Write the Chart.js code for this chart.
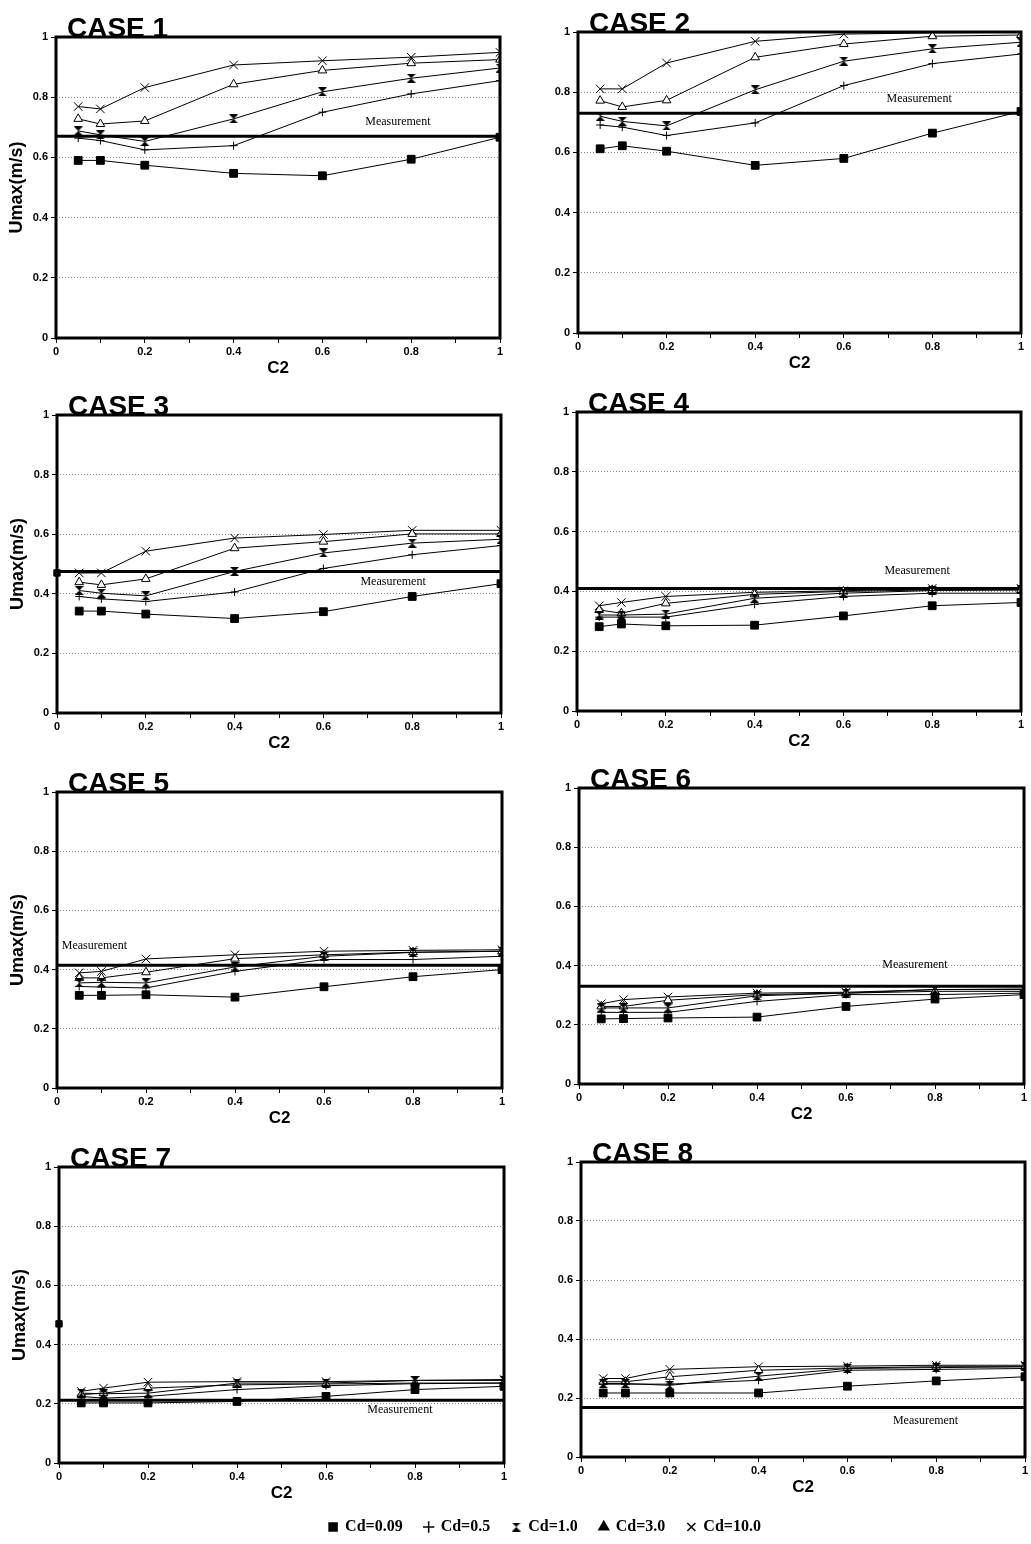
<!DOCTYPE html>
<html>
<head>
<meta charset="utf-8">
<title>Umax vs C2 - Cases 1-8</title>
<script src="https://cdn.jsdelivr.net/npm/chart.js@4.4.1/dist/chart.umd.min.js"></script>
<style>
  html, body { margin: 0; padding: 0; background: #fff; overflow: hidden; }
  body { width: 1031px; height: 1544px; position: relative; }
  .panel { position: absolute; }
</style>
</head>
<body>
<script>
// x values (C2) shared by every case
const c2 = [0.05, 0.1, 0.2, 0.4, 0.6, 0.8, 1.0];
const cdLabels = ['Cd=0.09', 'Cd=0.5', 'Cd=1.0', 'Cd=3.0', 'Cd=10.0'];
const caseNames = ['CASE 1', 'CASE 2', 'CASE 3', 'CASE 4', 'CASE 5', 'CASE 6', 'CASE 7', 'CASE 8'];

// rows: Cd=0.09, Cd=0.5, Cd=1.0, Cd=3.0, Cd=10.0
const umaxCase1 = [
  [0.590, 0.590, 0.574, 0.547, 0.539, 0.594, 0.667],
  [0.664, 0.656, 0.625, 0.639, 0.750, 0.811, 0.855],
  [0.688, 0.675, 0.653, 0.728, 0.818, 0.863, 0.897],
  [0.728, 0.711, 0.721, 0.843, 0.889, 0.913, 0.925],
  [0.769, 0.761, 0.832, 0.907, 0.921, 0.933, 0.949]
];
const umaxCase2 = [
  [0.612, 0.622, 0.604, 0.557, 0.580, 0.664, 0.736],
  [0.691, 0.684, 0.656, 0.698, 0.822, 0.895, 0.927],
  [0.720, 0.703, 0.688, 0.808, 0.903, 0.944, 0.966],
  [0.772, 0.751, 0.773, 0.916, 0.960, 0.986, 0.990],
  [0.811, 0.811, 0.897, 0.969, 0.993, 0.997, 0.999]
];
const umaxCase3 = [
  [0.342, 0.342, 0.332, 0.317, 0.340, 0.391, 0.434],
  [0.391, 0.383, 0.374, 0.406, 0.485, 0.531, 0.562],
  [0.411, 0.402, 0.393, 0.475, 0.537, 0.570, 0.583],
  [0.439, 0.430, 0.450, 0.553, 0.575, 0.601, 0.601],
  [0.470, 0.470, 0.543, 0.587, 0.599, 0.613, 0.613]
];
const umaxCase4 = [
  [0.282, 0.291, 0.285, 0.287, 0.318, 0.352, 0.363],
  [0.314, 0.314, 0.314, 0.357, 0.383, 0.394, 0.394],
  [0.321, 0.321, 0.324, 0.377, 0.394, 0.403, 0.405],
  [0.338, 0.327, 0.360, 0.390, 0.400, 0.405, 0.405],
  [0.352, 0.363, 0.383, 0.397, 0.402, 0.410, 0.410]
];
const umaxCase5 = [
  [0.313, 0.313, 0.315, 0.307, 0.342, 0.376, 0.400],
  [0.343, 0.341, 0.338, 0.394, 0.434, 0.434, 0.445],
  [0.355, 0.357, 0.355, 0.409, 0.445, 0.458, 0.462],
  [0.372, 0.372, 0.391, 0.437, 0.450, 0.459, 0.462],
  [0.389, 0.394, 0.436, 0.450, 0.462, 0.465, 0.467]
];
const umaxCase6 = [
  [0.220, 0.221, 0.223, 0.226, 0.262, 0.287, 0.302],
  [0.242, 0.242, 0.242, 0.279, 0.302, 0.302, 0.307],
  [0.257, 0.257, 0.257, 0.298, 0.307, 0.319, 0.319],
  [0.262, 0.262, 0.283, 0.302, 0.307, 0.313, 0.313],
  [0.271, 0.285, 0.294, 0.307, 0.310, 0.319, 0.321]
];
const umaxCase7 = [
  [0.203, 0.203, 0.203, 0.208, 0.225, 0.248, 0.259],
  [0.225, 0.219, 0.225, 0.248, 0.261, 0.268, 0.270],
  [0.236, 0.234, 0.236, 0.270, 0.270, 0.279, 0.279],
  [0.231, 0.236, 0.253, 0.264, 0.267, 0.270, 0.270],
  [0.242, 0.253, 0.273, 0.275, 0.275, 0.279, 0.282]
];
const umaxCase8 = [
  [0.217, 0.217, 0.217, 0.217, 0.240, 0.258, 0.272],
  [0.247, 0.247, 0.247, 0.260, 0.294, 0.297, 0.300],
  [0.249, 0.249, 0.243, 0.274, 0.300, 0.303, 0.306],
  [0.255, 0.255, 0.272, 0.294, 0.302, 0.306, 0.306],
  [0.266, 0.266, 0.297, 0.306, 0.308, 0.311, 0.311]
];
const umaxCases = [umaxCase1, umaxCase2, umaxCase3, umaxCase4, umaxCase5, umaxCase6, umaxCase7, umaxCase8];

// measured Umax (thick horizontal line)
const measured = [0.67, 0.73, 0.475, 0.41, 0.415, 0.33, 0.212, 0.168];
// odd single marks visible on the scanned plots
const strayPoints = [[], [], [[0, 0.47]], [], [], [], [[0, 0.47]], []];

// ---- layout (not data) ----
const boxes = [
  { l: 0,   t: 7,    w: 507, h: 373 },
  { l: 522, t: 2,    w: 506, h: 373 },
  { l: 1,   t: 385,  w: 507, h: 370 },
  { l: 521, t: 382,  w: 507, h: 371 },
  { l: 1,   t: 762,  w: 508, h: 368 },
  { l: 523, t: 758,  w: 508, h: 368 },
  { l: 3,   t: 1137, w: 508, h: 368 },
  { l: 525, t: 1132, w: 507, h: 367 }
];
// where "Measurement" is written, in data units
const labelAt = [[0.77, 0.717], [0.77, 0.777], [0.757, 0.44], [0.766, 0.47],
                 [0.084, 0.479], [0.755, 0.403], [0.766, 0.18], [0.776, 0.121]];

const SANS = '"Liberation Sans", Arial, Helvetica, sans-serif';
const SERIF = '"Liberation Serif", "Times New Roman", serif';

function hourglass(size) {
  const c = document.createElement('canvas');
  c.width = size; c.height = size;
  const g = c.getContext('2d');
  g.fillStyle = '#000';
  g.beginPath(); g.moveTo(0, 0); g.lineTo(size, 0); g.lineTo(size / 2, size / 2); g.closePath(); g.fill();
  g.beginPath(); g.moveTo(0, size); g.lineTo(size, size); g.lineTo(size / 2, size / 2); g.closePath(); g.fill();
  return c;
}
const hg = hourglass(9);

const markers = [
  { style: 'rect', r: 5.5, fill: '#000' },
  { style: 'cross', r: 4, fill: '#000' },
  { style: hg, r: 4, fill: '#000' },
  { style: 'triangle', r: 5, fill: '#fff' },
  { style: 'crossRot', r: 6, fill: '#000' }
];

function fmt(v) {
  const r = Math.round(v * 10) / 10;
  if (r === 0) return '0';
  if (r === 1) return '1';
  return r.toFixed(1);
}

// title, measurement label and the thick frame
const panelText = {
  id: 'panelText',
  afterDatasetsDraw(chart, args, opts) {
    const { ctx, chartArea, scales } = chart;
    ctx.save();
    ctx.fillStyle = '#000';
    ctx.font = 'bold 28px ' + SANS;
    ctx.textAlign = 'left';
    ctx.textBaseline = 'alphabetic';
    ctx.fillText(opts.title, chartArea.left + 11, chartArea.top);
    ctx.font = '12px ' + SERIF;
    ctx.textAlign = 'center';
    ctx.textBaseline = 'middle';
    ctx.fillText('Measurement', scales.x.getPixelForValue(opts.labelAt[0]), scales.y.getPixelForValue(opts.labelAt[1]));
    ctx.lineWidth = 3;
    ctx.strokeStyle = '#000';
    ctx.strokeRect(chartArea.left, chartArea.top, chartArea.width, chartArea.height);
    ctx.restore();
  }
};

function makePanel(i) {
  const b = boxes[i];
  const div = document.createElement('div');
  div.className = 'panel';
  div.style.left = b.l + 'px';
  div.style.top = b.t + 'px';
  div.style.width = b.w + 'px';
  div.style.height = b.h + 'px';
  const cv = document.createElement('canvas');
  div.appendChild(cv);
  document.body.appendChild(div);

  const datasets = umaxCases[i].map((vals, k) => ({
    label: cdLabels[k],
    data: c2.map((x, j) => ({ x: x, y: vals[j] })),
    borderColor: '#000',
    borderWidth: 1,
    backgroundColor: markers[k].fill,
    pointStyle: markers[k].style,
    pointRadius: markers[k].r,
    pointBorderColor: '#000',
    pointBackgroundColor: markers[k].fill,
    pointBorderWidth: 1,
    tension: 0,
    fill: false
  }));
  datasets.push({
    label: 'Measurement',
    data: [{ x: 0, y: measured[i] }, { x: 1, y: measured[i] }],
    borderColor: '#000',
    borderWidth: 3,
    pointRadius: 0,
    fill: false
  });
  if (strayPoints[i].length) {
    datasets.push({
      label: 'stray',
      data: strayPoints[i].map(p => ({ x: p[0], y: p[1] })),
      showLine: false,
      pointStyle: 'rect',
      pointRadius: 4.5,
      pointBackgroundColor: '#000',
      pointBorderColor: '#000',
      clip: false
    });
  }

  new Chart(cv, {
    type: 'line',
    data: { datasets: datasets },
    plugins: [panelText],
    options: {
      responsive: true,
      maintainAspectRatio: false,
      animation: false,
      events: [],
      layout: { padding: { top: 30, right: 5, bottom: 0, left: 0 } },
      plugins: {
        legend: { display: false },
        tooltip: { enabled: false },
        panelText: { title: caseNames[i], labelAt: labelAt[i] }
      },
      scales: {
        x: {
          type: 'linear', min: 0, max: 1,
          afterFit: s => { s.height = 42; },
          ticks: {
            stepSize: 0.1, autoSkip: false, maxRotation: 0, padding: 2, color: '#000',
            font: { family: SANS, size: 11, weight: 'bold' },
            callback: v => (Math.round(v * 10) % 2 === 0 ? fmt(v) : '')
          },
          grid: { drawOnChartArea: false, drawTicks: true, tickLength: 5, tickColor: '#000', color: '#000' },
          border: { display: false },
          title: {
            display: true, text: 'C2', color: '#000',
            font: { family: SANS, size: 17, weight: 'bold' },
            padding: { top: 0, bottom: 1 }
          }
        },
        y: {
          type: 'linear', min: 0, max: 1,
          afterFit: s => { s.width = 56; },
          ticks: {
            stepSize: 0.2, padding: 3, color: '#000',
            font: { family: SANS, size: 11, weight: 'bold' },
            callback: v => fmt(v)
          },
          grid: {
            color: c => (c.tick && (c.tick.value < 0.01 || c.tick.value > 0.99)) ? 'rgba(0,0,0,0)' : '#8c8c8c',
            lineWidth: 1, tickLength: 5, tickColor: '#000', tickBorderDash: [], borderDash: [1, 2]
          },
          border: { display: false, dash: [1, 2] },
          title: {
            display: i % 2 === 0, text: 'Umax(m/s)', color: '#000',
            font: { family: SANS, size: 18, weight: 'bold' },
            padding: { top: 6, bottom: 0 }
          }
        }
      }
    }
  });
}

for (let i = 0; i < 8; i++) makePanel(i);

// shared legend at the bottom (box is tall so the legend is not clipped;
// the part below the page is simply not visible)
const lg = document.createElement('div');
lg.className = 'panel';
lg.style.left = '0px';
lg.style.top = '1497px';
lg.style.width = '1090px';
lg.style.height = '160px';
const lgc = document.createElement('canvas');
lg.appendChild(lgc);
document.body.appendChild(lg);

new Chart(lgc, {
  type: 'line',
  data: {
    datasets: cdLabels.map((l, k) => ({
      label: l,
      data: [],
      pointStyle: markers[k].style,
      pointRadius: 4,
      pointBackgroundColor: '#000',
      pointBorderColor: '#000',
      pointBorderWidth: 1.5,
      borderColor: '#000',
      backgroundColor: '#000'
    }))
  },
  options: {
    responsive: true,
    maintainAspectRatio: false,
    animation: false,
    events: [],
    scales: { x: { display: false }, y: { display: false } },
    plugins: {
      tooltip: { enabled: false },
      legend: {
        display: true, position: 'top', align: 'center',
        labels: {
          usePointStyle: true, boxWidth: 8, boxHeight: 8, padding: 22, color: '#000',
          font: { family: SERIF, size: 16, weight: 'bold' }
        }
      }
    }
  }
});
</script>
</body>
</html>
